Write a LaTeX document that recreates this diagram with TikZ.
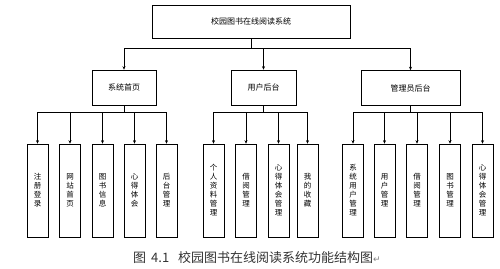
\documentclass[tikz,border=0pt]{standalone}
\usepackage{fontspec}
\setmainfont{Noto Sans CJK SC}
\newfontfamily\symfont{DejaVu Sans}
\usetikzlibrary{arrows.meta,positioning}

\begin{document}
\begin{tikzpicture}[x=1pt,y=-1pt,
    topbox/.style={draw, line width=0.6pt, minimum width=198pt, minimum height=33pt, inner sep=0pt, font=\fontsize{8}{10}\selectfont},
    midbox/.style={draw, line width=0.6pt, minimum height=35pt, inner sep=0pt, font=\fontsize{8}{10}\selectfont},
    leafbox/.style={draw, line width=0.6pt, minimum width=21pt, minimum height=93pt, inner sep=0pt, align=center, font=\fontsize{7.5}{9}\selectfont},
    link/.style={line width=0.5pt, -{Stealth[length=3.5pt,width=3pt]}},
    bus/.style={line width=0.5pt}]
        \useasboundingbox (0,0) rectangle (500,268);
        % Estructura de funciones del sistema
        \node[topbox] (top) at (251,21.5) {校园图书在线阅读系统};
        \node[midbox, minimum width=64pt] (home) at (124,87.5) {系统首页};
        \node[midbox, minimum width=65pt] (user) at (263.5,87.5) {用户后台};
        \node[midbox, minimum width=99pt] (admin) at (410.5,88) {管理员后台};

        \node[leafbox] (h1) at (37.5,190.5) {注\\册\\登\\录};
        \node[leafbox] (h2) at (70,190.5) {网\\站\\首\\页};
        \node[leafbox] (h3) at (102.5,190.5) {图\\书\\信\\息};
        \node[leafbox] (h4) at (134.5,190.5) {心\\得\\体\\会};
        \node[leafbox] (h5) at (166.5,190.5) {后\\台\\管\\理};

        \node[leafbox] (u1) at (213.5,190.5) {个\\人\\资\\料\\管\\理};
        \node[leafbox] (u2) at (246,190.5) {借\\阅\\管\\理};
        \node[leafbox] (u3) at (278.5,190.5) {心\\得\\体\\会\\管\\理};
        \node[leafbox] (u4) at (307.5,190.5) {我\\的\\收\\藏};

        \node[leafbox] (a1) at (353,190.5) {系\\统\\用\\户\\管\\理};
        \node[leafbox] (a2) at (384.5,190.5) {用\\户\\管\\理};
        \node[leafbox] (a3) at (417,190.5) {借\\阅\\管\\理};
        \node[leafbox] (a4) at (450,190.5) {图\\书\\管\\理};
        \node[leafbox] (a5) at (482.5,190.5) {心\\得\\体\\会\\管\\理};

        \coordinate (b0) at (251,48);
        \coordinate (b1) at (124,112.5);
        \coordinate (b2) at (263.5,112.5);
        \coordinate (b3) at (410.5,112.5);

        \draw[bus] (top.south) -- (b0);
        \draw[link] (b0) -| (home.north);
        \draw[link] (b0) -| (user.north);
        \draw[link] (b0) -| (admin.north);

        \draw[bus] (home.south) -- (b1);
        \draw[link] (b1) -| (h1.north);
        \draw[link] (b1) -| (h2.north);
        \draw[link] (b1) -| (h3.north);
        \draw[link] (b1) -| (h4.north);
        \draw[link] (b1) -| (h5.north);

        \draw[bus] (user.south) -- (b2);
        \draw[link] (b2) -| (u1.north);
        \draw[link] (b2) -| (u2.north);
        \draw[link] (b2) -| (u3.north);
        \draw[link] (b2) -| (u4.north);

        \draw[bus] (admin.south) -- (b3);
        \draw[link] (b3) -| (a1.north);
        \draw[link] (b3) -| (a2.north);
        \draw[link] (b3) -| (a3.north);
        \draw[link] (b3) -| (a4.north);
        \draw[link] (b3) -| (a5.north);

        \node[anchor=west, inner sep=0pt, text=black!80, font=\fontsize{13}{15}\selectfont] (cap) at (133,258) {图\hspace{5pt}4.1\hspace{9pt}校园图书在线阅读系统功能结构图{\symfont\fontsize{9}{10}\selectfont\color{gray}↵}};
    \end{tikzpicture}
\end{document}
